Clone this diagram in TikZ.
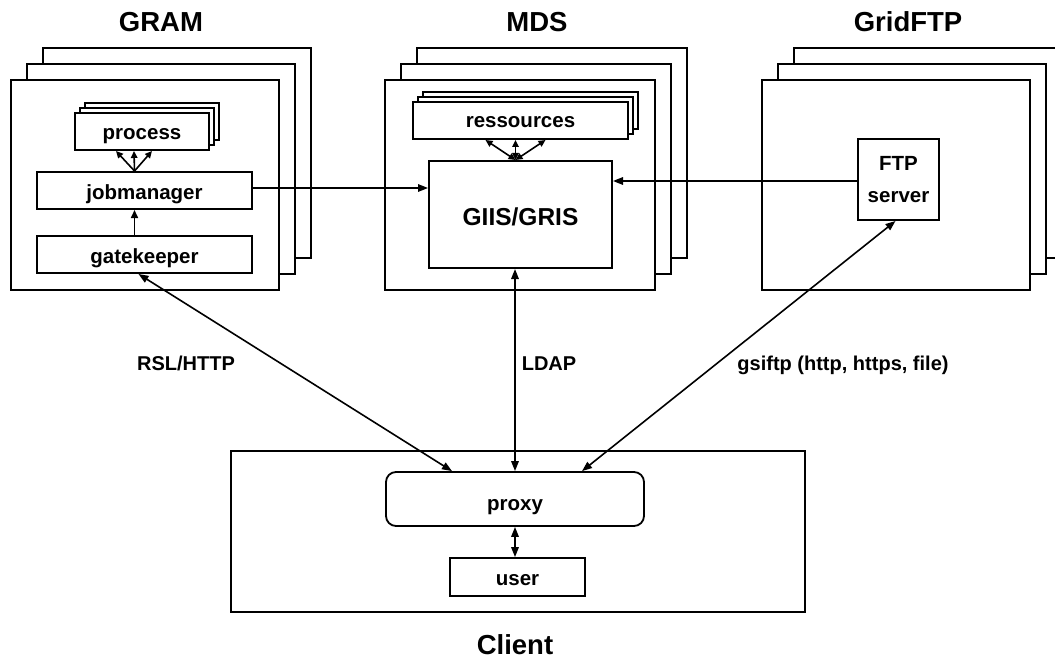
\documentclass[tikz,border=0pt]{standalone}
\usepackage{fontspec}
\setmainfont{Liberation Sans}
\usetikzlibrary{arrows.meta,calc}
\begin{document}
\begin{tikzpicture}[x=1pt,y=-1pt,
  frame/.style={draw, line width=2.2pt, fill=white, minimum width=268pt, minimum height=210pt, inner sep=0pt},
  ibox/.style={draw, line width=2pt, fill=white, inner sep=0pt, font=\fontsize{20.5}{24}\selectfont\bfseries, text height=19pt, text depth=2pt},
  ttl/.style={font=\fontsize{27.5}{30}\selectfont\bfseries, anchor=base, inner sep=0pt},
  lbl/.style={font=\fontsize{20}{24}\selectfont\bfseries, anchor=base, inner sep=0pt},
  conn/.style={line width=1.6pt, -{Triangle[length=10pt,width=7.5pt]}},
  dconn/.style={line width=1.6pt, {Triangle[length=10pt,width=7.5pt]}-{Triangle[length=10pt,width=7.5pt]}},
  fan/.style={line width=1.6pt, -{Triangle[length=7pt,width=6.5pt]}},
  dfan/.style={line width=1.6pt, {Triangle[length=7pt,width=6.5pt]}-{Triangle[length=7pt,width=6.5pt]}}
]
\useasboundingbox (0,0) rectangle (1055,658);

% titles
\node[ttl] (tgram) at (161,32) {GRAM};
\node[ttl] (tmds) at (537,32) {MDS};
\node[ttl] (tftp) at (908,32) {GridFTP};
\node[ttl] (tcli) at (515,654) {Client};

% GRAM stack
\node[frame] (gramA) at (177,153) {};
\node[frame] (gramB) at (161,169) {};
\node[frame] (gram) at (145,185) {};
% MDS stack
\node[frame, minimum width=270pt] (mdsA) at (552,153) {};
\node[frame, minimum width=270pt] (mdsB) at (536,169) {};
\node[frame, minimum width=270pt] (mds) at (520,185) {};
% GridFTP stack
\node[frame] (gftpA) at (928,153) {};
\node[frame] (gftpB) at (912,169) {};
\node[frame] (gftp) at (896,185) {};

% process stack
\node[ibox, minimum width=134pt, minimum height=37pt] (procC) at (152,121.5) {};
\node[ibox, minimum width=134pt, minimum height=37pt] (procB) at (147,126.5) {};
\node[ibox, minimum width=134pt, minimum height=37pt] (proc) at (142,131.5) {process};
\node[ibox, minimum width=215pt, minimum height=37pt] (jm) at (144.5,190.5) {jobmanager};
\node[ibox, minimum width=215pt, minimum height=37pt] (gate) at (144.5,254.5) {gatekeeper};

% ressources stack
\node[ibox, minimum width=215pt, minimum height=37pt] (resC) at (530.5,110.5) {};
\node[ibox, minimum width=215pt, minimum height=37pt] (resB) at (525.5,115.5) {};
\node[ibox, minimum width=215pt, minimum height=37pt, text height=17pt, text depth=2pt] (res) at (520.5,120.5) {ressources};
\node[ibox, minimum width=183pt, minimum height=107pt, text height=22pt, text depth=1pt, font=\fontsize{24.5}{28}\selectfont\bfseries] (giis) at (520.5,214.5) {GIIS/GRIS};

% FTP server
\node[ibox, minimum width=81pt, minimum height=81pt, align=center, text height=, text depth=, font=\fontsize{20.5}{32}\selectfont\bfseries] (ftp) at (898.5,179.5) {FTP\\server};

% Client
\node[draw, line width=2.2pt, minimum width=574pt, minimum height=161pt, inner sep=0pt] (cli) at (518,531.5) {};
\node[ibox, rounded corners=10pt, line width=1.8pt, minimum width=258pt, minimum height=54pt, text height=22pt, text depth=0pt] (proxy) at (515,499) {proxy};
\node[ibox, line width=1.8pt, minimum width=135pt, minimum height=38pt, text height=17pt, text depth=1pt] (user) at (517.5,577) {user};

% internal GRAM arrows
\draw[conn, -{Triangle[length=8pt,width=7pt]}] ([xshift=-10pt]gate.north) -- ([xshift=-10pt]jm.north |- jm.south);
\draw[fan] ([xshift=-10pt]jm.north) -- ([xshift=-26pt]proc.south);
\draw[fan] ([xshift=-10pt]jm.north) -- ([xshift=-8pt]proc.south);
\draw[fan] ([xshift=-10pt]jm.north) -- ([xshift=10pt]proc.south);

% internal MDS arrows
\draw[dfan] ([xshift=-5pt]giis.north) -- ([xshift=-35pt]res.south);
\draw[dfan] ([xshift=-5pt]giis.north) -- ([xshift=-5pt]res.south);
\draw[dfan] ([xshift=-5pt]giis.north) -- ([xshift=25pt]res.south);

% horizontal connectors
\draw[conn] ([yshift=2.5pt]jm.east) -- ([yshift=2.5pt]jm.east -| giis.west);
\draw[conn] ([yshift=-1.5pt]ftp.west) -- ([yshift=-1.5pt]ftp.west -| giis.east);

% client connectors
\draw[dconn] ([xshift=-6pt]gate.south) -- ([xshift=-63pt]proxy.north);
\draw[dconn] (proxy.north |- giis.south) -- (proxy.north);
\draw[dconn] ([xshift=-3pt]ftp.south) -- ([xshift=67pt]proxy.north);
\draw[dconn] (proxy.south) -- (proxy.south |- user.north);

% connector labels
\node[lbl] (lrsl) at (186,370) {RSL/HTTP};
\node[lbl] (lldap) at (549,370) {LDAP};
\node[lbl] (lgsi) at (843,370) {gsiftp (http, https, file)};
\end{tikzpicture}
\end{document}
